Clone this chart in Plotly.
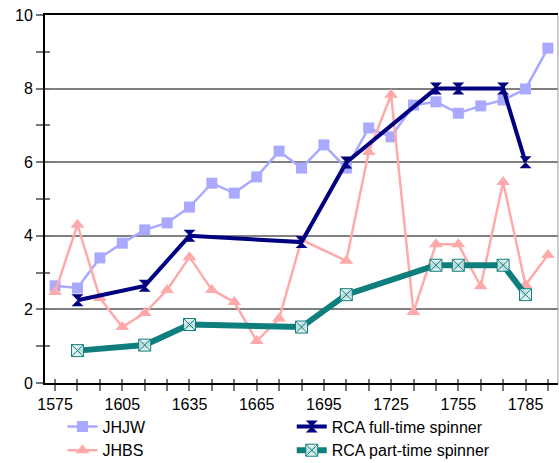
import plotly.graph_objects as go

# ---- data ----
years = list(range(1575, 1796, 10))

jhjw = [2.64, 2.58, 3.40, 3.80, 4.16, 4.35, 4.78, 5.43, 5.16, 5.60, 6.30, 5.84,
        6.47, 5.84, 6.93, 6.69, 7.55, 7.64, 7.33, 7.53, 7.69, 7.99, 9.10]

jhbs = [2.47, 4.30, 2.31, 1.52, 1.90, 2.53, 3.42, 2.53, 2.20, 1.14, 1.75, 3.89,
        None, 3.32, 6.28, 7.83, 1.93, 3.77, 3.77, 2.63, 5.46, 2.66, 3.48]

rca_years = [1585, 1615, 1635, 1685, 1705, 1745, 1755, 1775, 1785]
rca_full = [2.25, 2.64, 4.00, 3.83, 5.99, 8.00, 8.00, 8.00, 6.00]
rca_part = [0.88, 1.03, 1.59, 1.52, 2.40, 3.20, 3.20, 3.20, 2.40]

FONT = "Liberation Sans, Arial, sans-serif"
XR = [1570.5, 1799.5]
YR = [0, 10]

fig = go.Figure()

fig.add_trace(go.Scatter(
    x=years, y=jhjw, name="JHJW", mode="lines+markers",
    line=dict(color="#A9A9FF", width=2.5),
    marker=dict(symbol="square", size=11, color="#A9A9FF"),
    legend="legend"
))
fig.add_trace(go.Scatter(
    x=years, y=jhbs, name="JHBS", mode="lines+markers", connectgaps=True,
    line=dict(color="#FFAAAA", width=2.5),
    marker=dict(symbol="triangle-up", size=12, color="#FFAAAA"),
    legend="legend"
))
fig.add_trace(go.Scatter(
    x=rca_years, y=rca_full, name="RCA full-time spinner", mode="lines+markers",
    line=dict(color="#000080", width=4),
    marker=dict(symbol="hourglass", size=12, color="#000080"),
    legend="legend2"
))
fig.add_trace(go.Scatter(
    x=rca_years, y=rca_part, name="RCA part-time spinner", mode="lines+markers",
    line=dict(color="#0F7F7E", width=6),
    marker=dict(symbol="square-x", size=12, color="rgba(225,240,240,0.85)",
                line=dict(color="#0F7F7E", width=1)),
    legend="legend2"
))

# invisible trace so the overlay axes (inner half of crossing ticks) get drawn
fig.add_trace(go.Scatter(x=[XR[0]], y=[0], xaxis="x2", yaxis="y2",
                         mode="markers", marker=dict(opacity=0),
                         showlegend=False, hoverinfo="skip"))

fig.update_layout(
    width=559, height=463,
    margin=dict(l=45, r=1, t=15, b=80, autoexpand=False),
    paper_bgcolor="white", plot_bgcolor="white",
    font=dict(family=FONT, size=16, color="black"),
    xaxis=dict(
        range=XR, tick0=1575, dtick=30, ticks="outside", ticklen=6,
        tickwidth=2, tickcolor="#777777",
        minor=dict(tick0=1575, dtick=10, ticks="outside", ticklen=6,
                   tickwidth=2, tickcolor="#777777"),
        showgrid=False, zeroline=False,
        showline=True, linecolor="black", linewidth=2, mirror=True,
        tickfont=dict(size=16)
    ),
    yaxis=dict(
        range=YR, tick0=0, dtick=2, ticks="outside", ticklen=7,
        tickwidth=2, tickcolor="#777777",
        minor=dict(dtick=1, ticks="outside", ticklen=7, tickwidth=2,
                   tickcolor="#777777", showgrid=False),
        showgrid=True, gridcolor="#808080", gridwidth=2, zeroline=False,
        showline=True, linecolor="black", linewidth=2,
        tickfont=dict(size=16)
    ),
    xaxis2=dict(
        overlaying="x", range=XR, tick0=1575, dtick=10, ticks="inside",
        ticklen=4, tickwidth=2, tickcolor="#777777", showticklabels=False,
        showgrid=False, zeroline=False, showline=False
    ),
    yaxis2=dict(
        overlaying="y", range=YR, tick0=0, dtick=1, ticks="inside",
        ticklen=5, tickwidth=2, tickcolor="#777777", showticklabels=False,
        showgrid=False, zeroline=False, showline=False
    ),
    legend=dict(
        x=0.034, y=-0.072, xanchor="left", yanchor="top",
        bgcolor="rgba(0,0,0,0)", itemwidth=30, tracegroupgap=0,
        font=dict(size=16)
    ),
    legend2=dict(
        x=0.481, y=-0.072, xanchor="left", yanchor="top",
        bgcolor="rgba(0,0,0,0)", itemwidth=30, tracegroupgap=0,
        font=dict(size=16)
    ),
    shapes=[dict(type="line", xref="paper", yref="paper", x0=1, x1=1,
                 y0=0, y1=1, line=dict(color="#999999", width=1))],
    showlegend=True
)

fig.write_html("out.html", config={"displayModeBar": False},
               post_script="document.body.style.margin='0';")
